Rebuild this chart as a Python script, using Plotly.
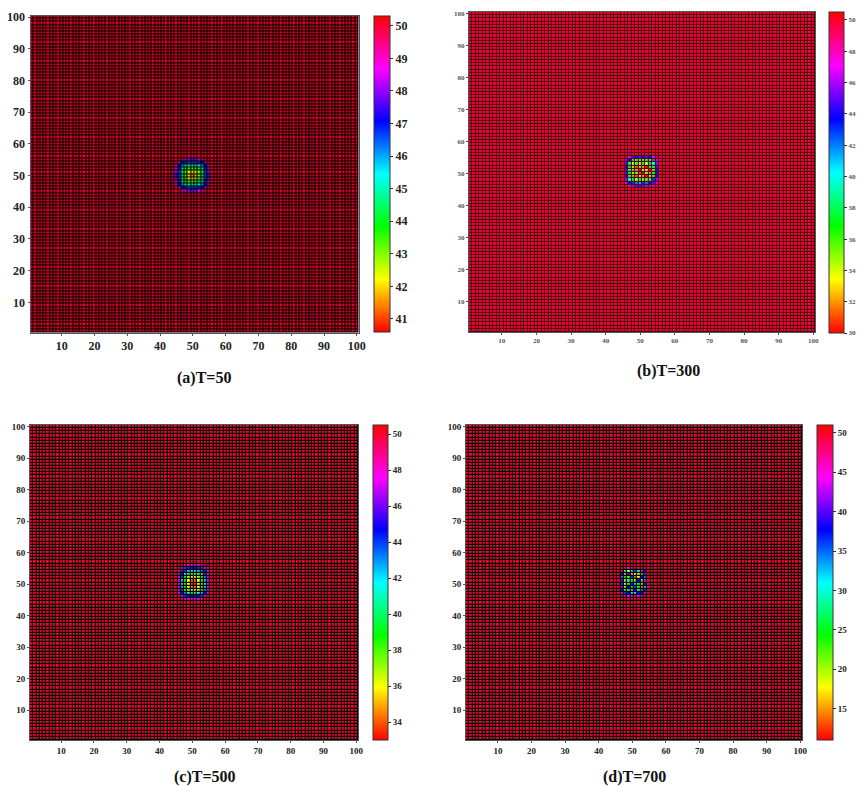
import numpy as np
import plotly.graph_objects as go

W = 866
H = 786

# colour bar runs red - yellow - green - cyan - blue - magenta - red
hsv_scale = [
    [0.0, "#ff0000"], [0.167, "#ffff00"], [0.333, "#00ff00"], [0.5, "#00ffff"],
    [0.667, "#0000ff"], [0.833, "#ff00ff"], [1.0, "#ff0000"],
]

grid_ticks = [10, 20, 30, 40, 50, 60, 70, 80, 90, 100]

# hot spots, rows go from top to bottom
a_x = [45, 46, 47, 48, 49, 50, 51, 52, 53, 54, 55]
a_y = [55, 54, 53, 52, 51, 50, 49, 48, 47, 46, 45]
a_spot = [
    [50.3, 50.3, 49.5, 48.5, 48, 47.8, 48, 48.5, 49.5, 50.3, 50.3],
    [50.3, 48.5, 47.2, 46.8, 46.6, 46.6, 46.6, 46.8, 47.2, 48.5, 50.3],
    [49.5, 47.2, 46, 45.4, 45, 45, 45, 45.4, 46, 47.2, 49.5],
    [48.5, 46.8, 45.2, 44, 43.5, 43.2, 43.5, 44, 45.2, 46.8, 48.5],
    [48, 46.6, 45, 43.5, 42.5, 42, 42.3, 43.2, 45, 46.6, 48],
    [47.8, 46.6, 45, 43.2, 42, 41.5, 42, 43, 45, 46.6, 47.8],
    [48, 46.6, 45, 43.5, 42.3, 42, 42.2, 43.4, 45, 46.6, 48],
    [48.5, 46.8, 45.2, 44, 43.4, 43, 43.4, 44, 45.2, 46.8, 48.5],
    [49.5, 47.2, 46, 45.4, 45, 45, 45, 45.4, 46, 47.2, 49.5],
    [50.3, 48.5, 47.2, 46.8, 46.6, 46.6, 46.6, 46.8, 47.2, 48.5, 50.3],
    [50.3, 50.3, 49.5, 48.5, 48, 47.8, 48, 48.5, 49.5, 50.3, 50.3],
]

b_x = [46, 47, 48, 49, 50, 51, 52, 53, 54, 55]
b_y = [55, 54, 53, 52, 51, 50, 49, 48, 47, 46]
b_spot = [
    [50, 47, 45, 44, 45, 44, 45, 44, 47, 50],
    [46, 44, 38, 36, 40, 36, 38, 36, 42, 47],
    [45, 38, 34, 36, 33, 36, 34, 37, 40, 46],
    [44, 37, 33, 31, 35, 32, 30, 36, 38, 45],
    [45, 39, 36, 32, 30, 34, 33, 30, 36, 44],
    [45, 37, 34, 35, 31, 30, 35, 32, 38, 44],
    [44, 38, 36, 31, 34, 32, 30, 33, 37, 44],
    [46, 40, 37, 35, 38, 35, 36, 38, 43, 46],
    [48, 44, 43, 42, 41, 43, 42, 44, 45, 48],
    [50, 48, 46, 45, 45, 45, 46, 46, 48, 50],
]

c_x = [46, 47, 48, 49, 50, 51, 52, 53, 54, 55]
c_y = [56, 55, 54, 53, 52, 51, 50, 49, 48, 47, 46, 45]
c_spot = [
    [50, 50, 49, 48, 48, 48, 48, 49, 50, 50],
    [50, 48, 46.5, 45.5, 45, 45, 45.5, 46, 47.5, 49],
    [48, 46, 44, 42.5, 42, 42, 42.5, 43.5, 45.5, 48],
    [47.8, 45, 41.5, 39.5, 38.5, 38.5, 39.5, 41, 44, 47.8],
    [47.5, 44, 39.5, 37, 36, 36, 37, 39.5, 43, 47.8],
    [47.5, 42.5, 39, 36, 34, 34, 36, 38.5, 42.5, 47.8],
    [47.5, 42, 38.5, 36, 33.5, 33.5, 35.5, 38.5, 42, 47.8],
    [47.5, 42.5, 39, 36, 34.5, 34.5, 36, 38.5, 42.5, 47.8],
    [47.5, 44, 40, 37.5, 36.5, 36.5, 37.5, 39.5, 43, 48],
    [47.8, 45, 43, 41, 40, 40, 41, 42.5, 45, 48],
    [49, 47.5, 46, 45, 44.5, 44.5, 45, 46, 47.8, 50],
    [50, 49.5, 48, 47.8, 47.8, 47.8, 47.8, 48.5, 50, 50],
]

d_x = [47, 48, 49, 50, 51, 52, 53, 54, 55]
d_y = [55, 54, 53, 52, 51, 50, 49, 48, 47, 46]
d_spot = [
    [51, 51, 44, 51, 51, 51, 51, 51, 51],
    [51, 30, 18, 32, 36, 30, 44, 38, 51],
    [38, 22, 40, 16, 18, 16, 24, 42, 51],
    [34, 26, 22, 36, 14, 18, 38, 34, 51],
    [40, 16, 30, 24, 22, 38, 26, 44, 51],
    [36, 18, 26, 38, 32, 24, 16, 38, 51],
    [42, 20, 38, 24, 36, 26, 14, 28, 46],
    [38, 28, 24, 32, 38, 30, 34, 40, 51],
    [44, 36, 38, 30, 30, 38, 38, 44, 51],
    [51, 48, 44, 44, 46, 44, 48, 51, 51],
]

a_bar_ticks = [41, 42, 43, 44, 45, 46, 47, 48, 49, 50]
b_bar_ticks = [30, 32, 34, 36, 38, 40, 42, 44, 46, 48, 50]
c_bar_ticks = [34, 36, 38, 40, 42, 44, 46, 48, 50]
d_bar_ticks = [15, 20, 25, 30, 35, 40, 45, 50]


def build_field(base, xs, ys, spot):
    """Grille 100x100 au niveau de fond, avec la tache centrale"""
    z = np.full((100, 100), float(base))
    for j, y in enumerate(ys):
        for i, x in enumerate(xs):
            z[y - 1, x - 1] = min(spot[j][i], base)
    return z


SERIF = "Liberation Serif"

panels = [
    dict(xs=a_x, ys=a_y, spot=a_spot, base=50.0, zmin=40.6, zmax=50.3, ticks=a_bar_ticks,
         box=(30.5, 15.5, 358.5, 332.5), bar=(374, 16, 390, 332), size=12, color="#222222",
         bg="#000000", gap=1.2, blur=0.5, title="(a)T=50", title_xy=(204, 378)),
    dict(xs=b_x, ys=b_y, spot=b_spot, base=49.9, zmin=30, zmax=50.5, ticks=b_bar_ticks,
         box=(469, 12, 815, 332), bar=(829, 12.5, 844, 333), size=7, color="#555555",
         bg="#4a0a18", gap=1.1, blur=0.65, title="(b)T=300", title_xy=(668, 371)),
    dict(xs=c_x, ys=c_y, spot=c_spot, base=50.0, zmin=33, zmax=50.5, ticks=c_bar_ticks,
         box=(30, 425, 358, 740), bar=(373, 425, 388, 740), size=9, color="#222222",
         bg="#000000", gap=1.2, blur=0.3, title="(c)T=500", title_xy=(205, 777)),
    dict(xs=d_x, ys=d_y, spot=d_spot, base=49.8, zmin=11, zmax=51, ticks=d_bar_ticks,
         box=(466, 425, 802, 740), bar=(817, 425, 833, 740), size=9, color="#222222",
         bg="#000000", gap=1.2, blur=0.3, title="(d)T=700", title_xy=(634, 777)),
]

fig = go.Figure()
axis_cells = list(range(1, 101))

for n, p in enumerate(panels, start=1):
    left, top, right, bottom = p["box"]
    bl, bt, br, bb = p["bar"]
    suffix = "" if n == 1 else str(n)

    # les lignes noires de la grille sont les vides entre les cellules
    fig.add_trace(go.Heatmap(
        x=axis_cells, y=axis_cells,
        z=build_field(p["base"], p["xs"], p["ys"], p["spot"]),
        zmin=p["zmin"], zmax=p["zmax"],
        colorscale=hsv_scale,
        xgap=p["gap"], ygap=p["gap"],
        xaxis="x" + suffix, yaxis="y" + suffix,
        hoverinfo="skip",
        colorbar=dict(
            x=bl / W, xanchor="left", xpad=0,
            y=1 - bb / H, yanchor="bottom", ypad=0,
            len=(bb - bt) / H, lenmode="fraction",
            thickness=br - bl, thicknessmode="pixels",
            tickvals=p["ticks"], ticks="outside", ticklen=3,
            tickcolor="#333333", outlinecolor="#333333", outlinewidth=1,
            tickfont=dict(family=SERIF, size=p["size"], color=p["color"], weight="bold"),
        ),
    ))

    axis_style = dict(
        range=[0.5, 100.5], tickvals=grid_ticks, ticks="outside", ticklen=2,
        tickcolor="#555555", showgrid=False, zeroline=False,
        showline=True, linecolor="#555555", linewidth=1, mirror=True,
        tickfont=dict(family=SERIF, size=p["size"], color=p["color"], weight="bold"),
    )
    fig.update_layout({
        "xaxis" + suffix: dict(axis_style, domain=[left / W, right / W],
                               anchor="y" + suffix),
        "yaxis" + suffix: dict(axis_style, domain=[1 - bottom / H, 1 - top / H],
                               anchor="x" + suffix),
    })

    # fond sous la heatmap, visible a travers les vides
    fig.add_shape(type="rect", xref="x" + suffix + " domain", yref="y" + suffix + " domain",
                  x0=0, x1=1, y0=0, y1=1, fillcolor=p["bg"], line_width=0, layer="below")

    tx, ty = p["title_xy"]
    fig.add_annotation(text="<b>" + p["title"] + "</b>", xref="paper", yref="paper",
                       x=tx / W, y=1 - ty / H, xanchor="center", yanchor="middle",
                       showarrow=False, font=dict(family=SERIF, size=16, color="#111111"))

fig.update_layout(
    width=W, height=H, autosize=False,
    margin=dict(l=0, r=0, t=0, b=0, autoexpand=False),
    paper_bgcolor="white", plot_bgcolor="white",
    showlegend=False,
)

# l'original est une image scannee : un leger flou sur chaque heatmap
blurs = [p["blur"] for p in panels]
post_js = (
    "document.body.style.margin='0';"
    "var blurs=%s;" % blurs +
    "document.querySelectorAll('.hm image').forEach(function(im,i){"
    "im.style.filter='blur('+blurs[i]+'px)';});"
)

fig.write_html("out.html", config={"displayModeBar": False}, post_script=post_js)
